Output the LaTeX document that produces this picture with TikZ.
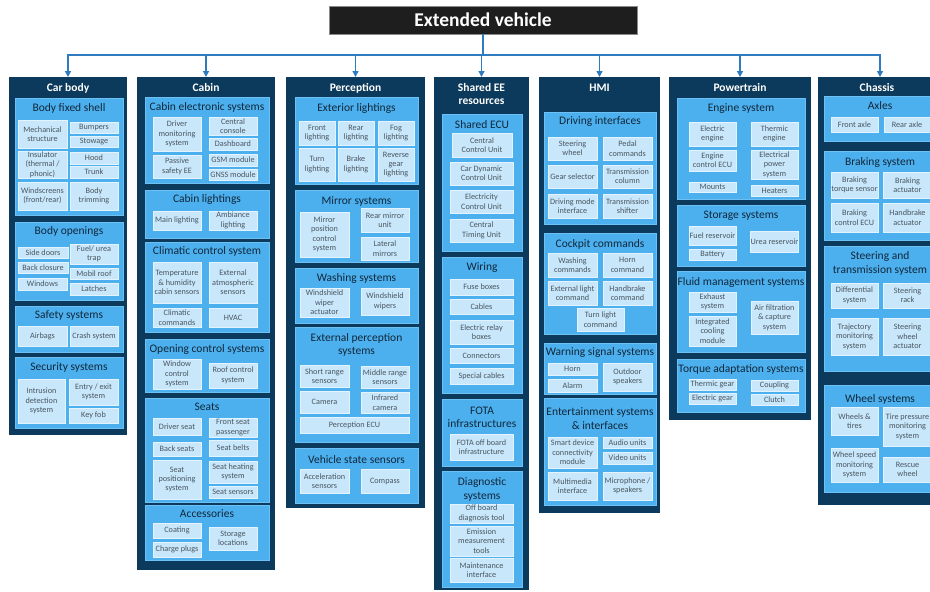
\documentclass[tikz,border=0pt]{standalone}
\usepackage{fontspec}
\setmainfont{Carlito}
\usetikzlibrary{arrows.meta}

\definecolor{navy}{HTML}{0C3A5C}
\definecolor{grpblue}{HTML}{4DB0EE}
\definecolor{grpedge}{HTML}{6CC0F4}
\definecolor{itemfill}{HTML}{C8E7FA}
\definecolor{itemedge}{HTML}{E4F4FE}
\definecolor{itemink}{HTML}{4A5661}
\definecolor{titleink}{HTML}{10273A}
\definecolor{linkblue}{HTML}{2F7BC0}
\definecolor{topfill}{HTML}{1E1E1E}
\definecolor{topedge}{HTML}{8A8A8A}

\tikzset{
  column/.style={fill=navy, draw=none, inner sep=0pt, outer sep=0pt},
  head/.style={text=white, font=\fontsize{11.5}{13}\selectfont\bfseries, align=center, inner sep=0pt},
  grp/.style={fill=grpblue, draw=grpedge, line width=0.6pt, inner sep=0pt, outer sep=0pt},
  gtitle/.style={text=titleink, font=\fontsize{11.5}{13.5}\selectfont, align=center, inner sep=0pt},
  itm/.style={fill=itemfill, draw=itemedge, line width=0.6pt, text=itemink,
    font=\fontsize{8.2}{9.4}\selectfont, align=center, inner sep=0pt, outer sep=0pt},
  link/.style={draw=linkblue, line width=1.3pt},
  feed/.style={link, -{Triangle[width=6pt,length=6pt]}},
  topbox/.style={fill=topfill, draw=topedge, line width=1pt, text=white,
    font=\fontsize{19.5}{22}\selectfont\bfseries, inner sep=0pt, outer sep=0pt}
}

% style, name, x1, y1, x2, y2, text  (pixel-like units, y grows downwards)
\newcommand{\placebox}[7]{%
  \node[#1, minimum width={#5-#3}, minimum height={#6-#4}] (#2) at ({(#3+#5)/2},{(#4+#6)/2}) {#7};}

\begin{document}
\begin{tikzpicture}[x=1pt,y=-1pt]
\useasboundingbox (0,0) rectangle (930,592);

% ---------- root ----------
\placebox{topbox}{ev}{329}{6}{637}{34}{Extended vehicle}

% ---------- columns ----------
\placebox{column}{car}{9}{77}{127}{435}{}
\placebox{column}{cabin}{137}{77}{275}{570}{}
\placebox{column}{perc}{286}{77}{425}{508}{}
\placebox{column}{shared}{434}{77}{529}{590}{}
\placebox{column}{hmi}{539}{77}{660}{513}{}
\placebox{column}{power}{669}{77}{811}{420}{}
\placebox{column}{chassis}{818}{77}{942}{505}{}

\node[head] (carH) at (68,88) {Car body};
\node[head] (cabinH) at (206,88) {Cabin};
\node[head] (percH) at (355.5,88) {Perception};
\node[head] (sharedH) at (481.5,94.5) {Shared EE\\resources};
\node[head] (hmiH) at (599.5,88) {HMI};
\node[head] (powerH) at (740,88) {Powertrain};
\node[head] (chassisH) at (877,88) {Chassis};

% ---------- connectors ----------
\coordinate (hub) at (483,55);
\draw[link] (ev.south) -- (hub);
\foreach \c in {car,cabin,perc,shared,hmi,power,chassis}
  \draw[feed] (hub) -| (\c.north);

% ================= Car body =================
\placebox{grp}{shell}{15}{98}{123}{215}{}
\node[gtitle] (shellT) at (69,108) {Body fixed shell};
\placebox{itm}{mech}{18}{120}{67}{148}{Mechanical\\structure}
\placebox{itm}{bump}{70}{122}{118}{133}{Bumpers}
\placebox{itm}{stow}{70}{136}{118}{147}{Stowage}
\placebox{itm}{insul}{18}{151}{67}{178}{Insulator\\(thermal /\\phonic)}
\placebox{itm}{hood}{70}{152}{118}{164}{Hood}
\placebox{itm}{trunk}{70}{166}{118}{178}{Trunk}
\placebox{itm}{windscr}{18}{182}{67}{210}{Windscreens\\(front/rear)}
\placebox{itm}{trim}{70}{182}{118}{210}{Body\\trimming}

\placebox{grp}{openings}{15}{222}{123}{300}{}
\node[gtitle] (openingsT) at (69,231) {Body openings};
\placebox{itm}{sidedoor}{18}{247}{68}{258}{Side doors}
\placebox{itm}{fueltrap}{70}{244}{118}{264}{Fuel/ urea\\trap}
\placebox{itm}{backcl}{18}{262}{68}{273}{Back closure}
\placebox{itm}{mobil}{70}{268}{118}{279}{Mobil roof}
\placebox{itm}{windows}{18}{278}{67}{290}{Windows}
\placebox{itm}{latches}{70}{283}{118}{295}{Latches}

\placebox{grp}{safety}{15}{306}{123}{352}{}
\node[gtitle] (safetyT) at (69,315) {Safety systems};
\placebox{itm}{airbags}{18}{326}{67}{346}{Airbags}
\placebox{itm}{crash}{70}{326}{118}{346}{Crash system}

\placebox{grp}{security}{15}{357}{123}{428}{}
\node[gtitle] (securityT) at (69,367) {Security systems};
\placebox{itm}{intrusion}{18}{379}{65}{423}{Intrusion\\detection\\system}
\placebox{itm}{entry}{69}{379}{118}{405}{Entry / exit\\system}
\placebox{itm}{keyfob}{69}{408}{118}{423}{Key fob}

% ================= Cabin =================
\placebox{grp}{celec}{145}{97}{269}{183}{}
\node[gtitle] (celecT) at (207,107) {Cabin electronic systems};
\placebox{itm}{dms}{153}{117}{201}{151}{Driver\\monitoring\\system}
\placebox{itm}{console}{209}{117}{257}{135}{Central\\console}
\placebox{itm}{dash}{209}{138}{257}{150}{Dashboard}
\placebox{itm}{passive}{153}{155}{201}{178}{Passive\\safety EE}
\placebox{itm}{gsm}{209}{154}{257}{166}{GSM module}
\placebox{itm}{gnss}{209}{169}{257}{180}{GNSS module}

\placebox{grp}{clight}{145}{190}{269}{238}{}
\node[gtitle] (clightT) at (207,199) {Cabin lightings};
\placebox{itm}{mainl}{153}{211}{201}{230}{Main lighting}
\placebox{itm}{ambl}{209}{211}{257}{230}{Ambiance\\lighting}

\placebox{grp}{clim}{145}{242}{269}{332}{}
\node[gtitle] (climT) at (207,251) {Climatic control system};
\placebox{itm}{temphum}{153}{262}{201}{303}{Temperature\\\& humidity\\cabin sensors}
\placebox{itm}{extatm}{209}{262}{257}{303}{External\\atmospheric\\sensors}
\placebox{itm}{climcmd}{153}{308}{201}{327}{Climatic\\commands}
\placebox{itm}{hvac}{209}{308}{257}{327}{HVAC}

\placebox{grp}{opening}{145}{339}{269}{392}{}
\node[gtitle] (openingT) at (207,349) {Opening control systems};
\placebox{itm}{windowctl}{153}{359}{201}{389}{Window\\control\\system}
\placebox{itm}{roofctl}{209}{363}{257}{388}{Roof control\\system}

\placebox{grp}{seats}{145}{398}{269}{502}{}
\node[gtitle] (seatsT) at (207,407) {Seats};
\placebox{itm}{driverseat}{153}{418}{201}{435}{Driver seat}
\placebox{itm}{frontpass}{209}{418}{257}{437}{Front seat\\passenger}
\placebox{itm}{backseats}{153}{442}{201}{456}{Back seats}
\placebox{itm}{belts}{209}{440}{257}{456}{Seat belts}
\placebox{itm}{seatpos}{153}{460}{201}{499}{Seat\\positioning\\system}
\placebox{itm}{seatheat}{209}{461}{257}{483}{Seat heating\\system}
\placebox{itm}{seatsens}{209}{486}{257}{498}{Seat sensors}

\placebox{grp}{access}{145}{505}{269}{560}{}
\node[gtitle] (accessT) at (207,514) {Accessories};
\placebox{itm}{coating}{153}{523}{201}{538}{Coating}
\placebox{itm}{charge}{153}{542}{201}{557}{Charge plugs}
\placebox{itm}{storloc}{209}{527}{257}{550}{Storage\\locations}

% ================= Perception =================
\placebox{grp}{extl}{295}{97}{418}{184}{}
\node[gtitle] (extlT) at (356.5,108) {Exterior lightings};
\placebox{itm}{frontl}{299}{121}{335}{145}{Front\\lighting}
\placebox{itm}{rearl}{338}{121}{374}{145}{Rear\\lighting}
\placebox{itm}{fogl}{378}{121}{414}{145}{Fog\\lighting}
\placebox{itm}{turnl}{299}{148}{335}{181}{Turn\\lighting}
\placebox{itm}{brakel}{338}{148}{374}{181}{Brake\\lighting}
\placebox{itm}{revl}{378}{148}{414}{181}{Reverse\\gear\\lighting}

\placebox{grp}{mirror}{295}{190}{418}{262}{}
\node[gtitle] (mirrorT) at (356.5,201) {Mirror systems};
\placebox{itm}{mirrorpos}{300}{212}{349}{257}{Mirror\\position\\control\\system}
\placebox{itm}{rearmirror}{361}{208}{409}{232}{Rear mirror\\unit}
\placebox{itm}{lateral}{361}{237}{409}{260}{Lateral\\mirrors}

\placebox{grp}{washing}{295}{268}{418}{323}{}
\node[gtitle] (washingT) at (356.5,278) {Washing systems};
\placebox{itm}{wiperact}{300}{288}{349}{317}{Windshield\\wiper\\actuator}
\placebox{itm}{wipers}{361}{288}{409}{315}{Windshield\\wipers}

\placebox{grp}{extperc}{295}{327}{418}{442}{}
\node[gtitle] (extpercT) at (356.5,345) {External perception\\systems};
\placebox{itm}{shortr}{300}{365}{349}{387}{Short range\\sensors}
\placebox{itm}{middler}{361}{366}{409}{388}{Middle range\\sensors}
\placebox{itm}{camera}{300}{391}{349}{413}{Camera}
\placebox{itm}{ircam}{361}{392}{409}{413}{Infrared\\camera}
\placebox{itm}{percecu}{300}{417}{409}{433}{Perception ECU}

\placebox{grp}{vss}{295}{448}{418}{503}{}
\node[gtitle] (vssT) at (356.5,460) {Vehicle state sensors};
\placebox{itm}{accel}{300}{469}{349}{493}{Acceleration\\sensors}
\placebox{itm}{compass}{361}{469}{409}{493}{Compass}

% ================= Shared EE resources =================
\placebox{grp}{secu}{442}{114}{522}{251}{}
\node[gtitle] (secuT) at (482,125) {Shared ECU};
\placebox{itm}{ccu}{452}{133}{512}{157}{Central\\Control Unit}
\placebox{itm}{cdcu}{450}{162}{513}{185}{Car Dynamic\\Control Unit}
\placebox{itm}{elcu}{450}{190}{513}{213}{Electricity\\Control Unit}
\placebox{itm}{ctu}{450}{219}{513}{242}{Central\\Timing Unit}

\placebox{grp}{wiring}{442}{257}{522}{393}{}
\node[gtitle] (wiringT) at (482,268) {Wiring};
\placebox{itm}{fuse}{450}{279}{513}{295}{Fuse boxes}
\placebox{itm}{cables}{450}{299}{513}{314}{Cables}
\placebox{itm}{relay}{450}{320}{513}{344}{Electric relay\\boxes}
\placebox{itm}{conn}{450}{348}{513}{363}{Connectors}
\placebox{itm}{special}{450}{368}{513}{384}{Special cables}

\placebox{grp}{fota}{442}{399}{522}{466}{}
\node[gtitle] (fotaT) at (482,417.5) {FOTA\\infrastructures};
\placebox{itm}{fotaoff}{450}{434}{513}{460}{FOTA off board\\infrastructure}

\placebox{grp}{diag}{442}{471}{522}{587}{}
\node[gtitle] (diagT) at (482,489.5) {Diagnostic\\systems};
\placebox{itm}{offdiag}{450}{504}{513}{523}{Off board\\diagnosis tool}
\placebox{itm}{emission}{450}{526}{513}{556}{Emission\\measurement\\tools}
\placebox{itm}{maint}{450}{558}{513}{582}{Maintenance\\interface}

% ================= HMI =================
\placebox{grp}{drivif}{544}{112}{656}{224}{}
\node[gtitle] (drivifT) at (600,122) {Driving interfaces};
\placebox{itm}{steerw}{548}{137}{597}{160}{Steering\\wheel}
\placebox{itm}{pedal}{603}{137}{652}{160}{Pedal\\commands}
\placebox{itm}{gearsel}{548}{165}{597}{188}{Gear selector}
\placebox{itm}{transcol}{603}{165}{652}{188}{Transmission\\column}
\placebox{itm}{drivemode}{548}{194}{597}{218}{Driving mode\\interface}
\placebox{itm}{transshift}{603}{194}{652}{218}{Transmission\\shifter}

\placebox{grp}{cockpit}{544}{233}{656}{334}{}
\node[gtitle] (cockpitT) at (600,244) {Cockpit commands};
\placebox{itm}{washcmd}{548}{253}{597}{277}{Washing\\commands}
\placebox{itm}{horncmd}{603}{253}{652}{277}{Horn\\command}
\placebox{itm}{extlcmd}{548}{281}{597}{305}{External light\\command}
\placebox{itm}{hbcmd}{603}{281}{652}{305}{Handbrake\\command}
\placebox{itm}{turncmd}{577}{308}{624}{331}{Turn light\\command}

\placebox{grp}{warning}{544}{343}{656}{394}{}
\node[gtitle] (warningT) at (600,352) {Warning signal systems};
\placebox{itm}{horn}{548}{363}{597}{375}{Horn}
\placebox{itm}{alarm}{548}{379}{597}{392}{Alarm}
\placebox{itm}{outdoor}{603}{363}{652}{391}{Outdoor\\speakers}

\placebox{grp}{entert}{544}{398}{656}{505}{}
\node[gtitle] (entertT) at (600,418.5) {Entertainment systems\\\& interfaces};
\placebox{itm}{smartdev}{548}{437}{597}{468}{Smart device\\connectivity\\module}
\placebox{itm}{audio}{603}{437}{652}{448}{Audio units}
\placebox{itm}{video}{603}{452}{652}{464}{Video units}
\placebox{itm}{multim}{548}{472}{597}{500}{Multimedia\\interface}
\placebox{itm}{micro}{603}{472}{652}{500}{Microphone /\\speakers}

% ================= Powertrain =================
\placebox{grp}{engine}{677}{98}{805}{199}{}
\node[gtitle] (engineT) at (741,109) {Engine system};
\placebox{itm}{eleng}{689}{122}{736}{146}{Electric\\engine}
\placebox{itm}{theng}{751}{122}{798}{146}{Thermic\\engine}
\placebox{itm}{engecu}{689}{150}{736}{171}{Engine\\control ECU}
\placebox{itm}{elpower}{751}{150}{798}{179}{Electrical\\power\\system}
\placebox{itm}{mounts}{689}{182}{736}{192}{Mounts}
\placebox{itm}{heaters}{751}{185}{798}{196}{Heaters}

\placebox{grp}{storage}{677}{205}{805}{266}{}
\node[gtitle] (storageT) at (741,216) {Storage systems};
\placebox{itm}{fuelres}{689}{226}{736}{245}{Fuel reservoir}
\placebox{itm}{battery}{689}{249}{736}{260}{Battery}
\placebox{itm}{urea}{751}{231}{798}{252}{Urea reservoir}

\placebox{grp}{fluid}{677}{271}{805}{352}{}
\node[gtitle] (fluidT) at (741,282) {Fluid management systems};
\placebox{itm}{exhaust}{689}{292}{736}{312}{Exhaust\\system}
\placebox{itm}{cooling}{689}{316}{736}{346}{Integrated\\cooling\\module}
\placebox{itm}{airfilt}{751}{301}{798}{334}{Air filtration\\\& capture\\system}

\placebox{grp}{torque}{677}{359}{805}{412}{}
\node[gtitle] (torqueT) at (741,369) {Torque adaptation systems};
\placebox{itm}{thgear}{689}{379}{736}{390}{Thermic gear}
\placebox{itm}{elgear}{689}{393}{736}{404}{Electric gear}
\placebox{itm}{coupling}{751}{380}{798}{391}{Coupling}
\placebox{itm}{clutch}{751}{394}{798}{405}{Clutch}

% ================= Chassis =================
\placebox{grp}{axles}{824}{96}{945}{141}{}
\node[gtitle] (axlesT) at (880,106) {Axles};
\placebox{itm}{frontaxle}{831}{117}{878}{132}{Front axle}
\placebox{itm}{rearaxle}{884}{117}{930}{132}{Rear axle}

\placebox{grp}{braking}{824}{151}{945}{240}{}
\node[gtitle] (brakingT) at (880,162) {Braking system};
\placebox{itm}{btorque}{831}{172}{878}{198}{Braking\\torque sensor}
\placebox{itm}{bact}{883}{172}{932}{198}{Braking\\actuator}
\placebox{itm}{bcecu}{831}{203}{878}{232}{Braking\\control ECU}
\placebox{itm}{hbact}{883}{203}{932}{232}{Handbrake\\actuator}

\placebox{grp}{steering}{824}{246}{945}{371}{}
\node[gtitle] (steeringT) at (880,263.5) {Steering and\\transmission system};
\placebox{itm}{diff}{831}{283}{878}{308}{Differential\\system}
\placebox{itm}{rack}{883}{283}{932}{308}{Steering\\rack}
\placebox{itm}{traj}{831}{318}{878}{355}{Trajectory\\monitoring\\system}
\placebox{itm}{swact}{883}{318}{932}{355}{Steering\\wheel\\actuator}

\placebox{grp}{wheel}{824}{385}{945}{492}{}
\node[gtitle] (wheelT) at (880,399) {Wheel systems};
\placebox{itm}{wheels}{831}{407}{878}{435}{Wheels \&\\tires}
\placebox{itm}{tpms}{883}{407}{932}{446}{Tire pressure\\monitoring\\system}
\placebox{itm}{wspeed}{831}{448}{878}{482}{Wheel speed\\monitoring\\system}
\placebox{itm}{rescue}{883}{457}{932}{482}{Rescue\\wheel}

\end{tikzpicture}
\end{document}
